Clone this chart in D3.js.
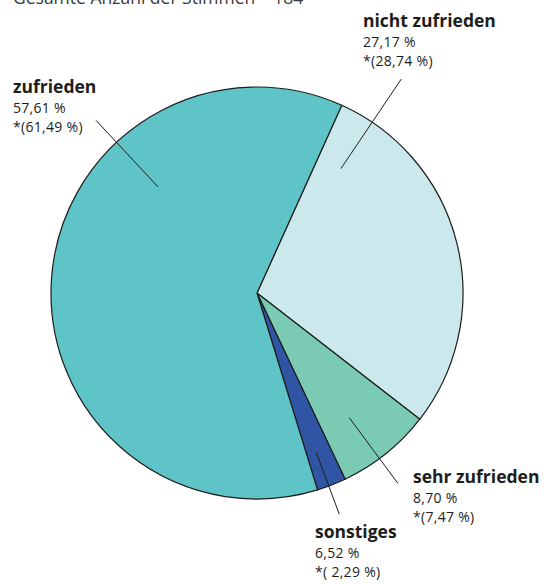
<!DOCTYPE html>
<html>
<head>
<meta charset="utf-8">
<script src="https://cdn.jsdelivr.net/npm/d3@7"></script>
<style>
  body { margin: 0; background: #fff; }
  svg { display: block; font-family: "Open Sans", sans-serif; }
</style>
</head>
<body>
<div class="svg-container"></div>
<script>
// slices are sized by the starred values
const categories = ["nicht zufrieden", "sehr zufrieden", "sonstiges", "zufrieden"];
const shares = [27.17, 8.70, 6.52, 57.61];
const weighted = [28.74, 7.47, 2.29, 61.49];
const colors = ["#cbe9ec", "#7bcab4", "#2f55a4", "#5fc4c8"];
const title = "Gesamte Anzahl der Stimmen – 184";

const width = 547, height = 584;
const cx = 257, cy = 293, radius = 206;
const deg = Math.PI / 180;

// label placement: leader angle, leader radii, text position
const labelLayout = {
  "nicht zufrieden": { angle: 34, r0: 150, r1: 258, x: 363, y: 27, pad: "" },
  "sehr zufrieden": { angle: 143.5, r0: 155, r1: 237, x: 413, y: 483, pad: "" },
  "sonstiges": { angle: 159.6, r0: 170, r1: 236, x: 315, y: 538, pad: " " },
  "zufrieden": { angle: 317, r0: 145, r1: 236, x: 13, y: 93, pad: "" }
};

const fmt = v => d3.format(".2f")(v).replace(".", ",") + " %";

const data = categories.map((c, i) => ({ name: c, share: shares[i], weighted: weighted[i], color: colors[i] }));

const svg = d3.select(".svg-container").append("svg")
  .attr("width", width).attr("height", height)
  .attr("viewBox", "0 0 " + width + " " + height);

svg.append("text")
  .attr("x", 13).attr("y", 4)
  .attr("font-size", "17.5px").attr("fill", "#3a3a3a")
  .text(title);

const pie = d3.pie().sort(null).value(d => d.weighted).startAngle(24.3 * deg).endAngle(24.3 * deg + 2 * Math.PI);
const arc = d3.arc().innerRadius(0).outerRadius(radius);

const g = svg.append("g").attr("transform", "translate(" + cx + "," + cy + ")");
g.selectAll("path").data(pie(data)).enter().append("path")
  .attr("d", arc)
  .attr("fill", d => d.data.color)
  .attr("stroke", "#1d1d1b").attr("stroke-width", 1.2).attr("stroke-linejoin", "round");

// leader lines
g.selectAll("line").data(data).enter().append("line")
  .each(function (d) {
    const l = labelLayout[d.name];
    const p0 = d3.pointRadial(l.angle * deg, l.r0), p1 = d3.pointRadial(l.angle * deg, l.r1);
    d3.select(this).attr("x1", p0[0]).attr("y1", p0[1]).attr("x2", p1[0]).attr("y2", p1[1]);
  })
  .attr("stroke", "#1d1d1b").attr("stroke-width", 1);

const labels = svg.selectAll("g.label").data(data).enter().append("g")
  .attr("class", "label")
  .attr("transform", d => "translate(" + labelLayout[d.name].x + "," + labelLayout[d.name].y + ")");
labels.append("text").attr("font-size", "17.5px").attr("font-weight", "bold").attr("fill", "#1d1d1b").text(d => d.name);
labels.append("text").attr("y", 20).attr("font-size", "14px").attr("letter-spacing", "0.3px").attr("fill", "#1d1d1b").text(d => fmt(d.share));
labels.append("text").attr("y", 39).attr("font-size", "14px").attr("letter-spacing", "0.3px").attr("fill", "#1d1d1b")
  .text(d => "*(" + labelLayout[d.name].pad + fmt(d.weighted) + ")");
</script>
</body>
</html>
